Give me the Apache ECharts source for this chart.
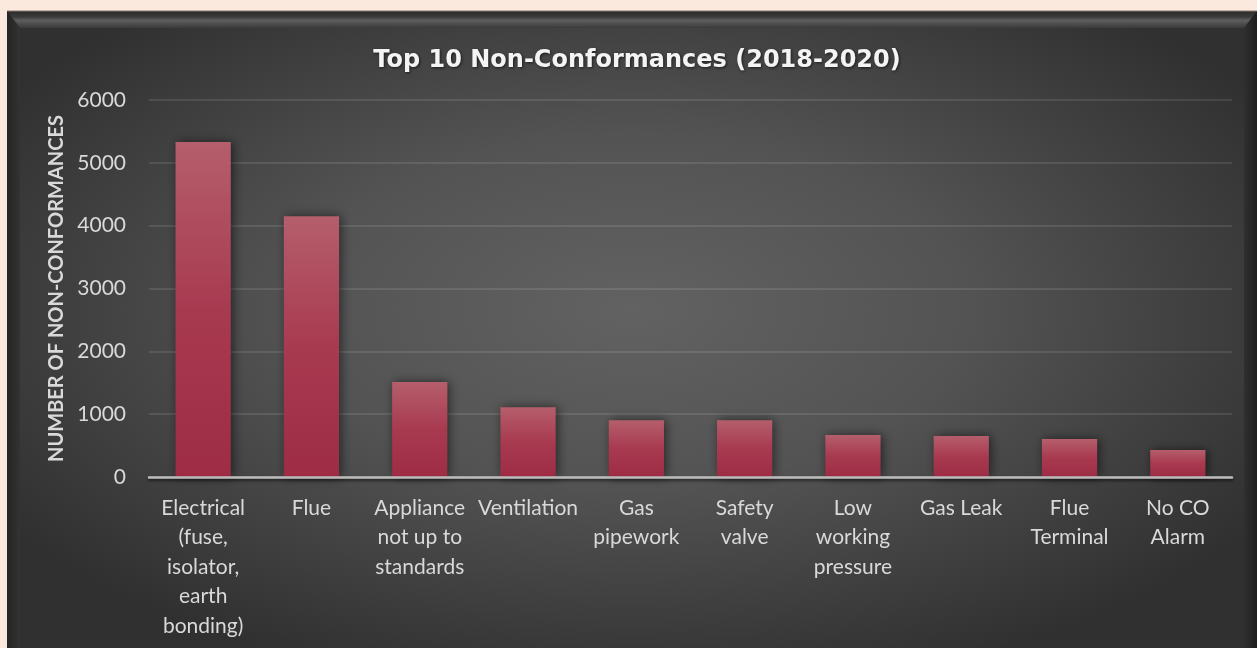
<!DOCTYPE html>
<html>
<head>
<meta charset="utf-8">
<script src="https://cdn.jsdelivr.net/npm/echarts@6/dist/echarts.min.js"></script>
<style>
html,body{margin:0;padding:0;background:#fce9dd;}
#chart{width:1257px;height:648px;}
</style>
</head>
<body>
<div id="chart"></div>
<script>
const titleText = 'Top 10 Non-Conformances (2018-2020)';
const yAxisName = 'NUMBER OF NON-CONFORMANCES';
const categories = [
  'Electrical\n(fuse,\nisolator,\nearth\nbonding)',
  'Flue',
  'Appliance\nnot up to\nstandards',
  'Ventilation',
  'Gas\npipework',
  'Safety\nvalve',
  'Low\nworking\npressure',
  'Gas Leak',
  'Flue\nTerminal',
  'No CO\nAlarm'
];
const values = [5330, 4150, 1510, 1110, 905, 905, 668, 653, 605, 430];
const yTicks = { min: 0, max: 6000, interval: 1000 };

const chart = echarts.init(document.getElementById('chart'), null, { renderer: 'canvas' });
const labelFont = 'Lato, "Open Sans", sans-serif';

chart.setOption({
  backgroundColor: '#fce9dd',
  animation: false,
  graphic: [
    {
      type: 'rect', z: -10, x: 7, y: 11, scaleY: 650 / 1250,
      shape: { x: 0, y: 0, width: 1250, height: 1250 },
      style: {
        fill: new echarts.graphic.RadialGradient(0.5, 0.46, 0.6, [
          { offset: 0, color: '#626262' },
          { offset: 0.45, color: '#535353' },
          { offset: 1, color: '#303030' }
        ])
      }
    },
    {
      type: 'polygon', z: -9,
      shape: { points: [[7, 11], [1257, 11], [1244, 28], [20, 28]] },
      style: {
        fill: new echarts.graphic.LinearGradient(0, 0, 0, 1, [
          { offset: 0, color: '#2a2a2a' },
          { offset: 0.35, color: '#3c3c3c' },
          { offset: 0.55, color: '#5e5e5e' },
          { offset: 1, color: '#3a3a3a' }
        ])
      }
    },
    {
      type: 'polygon', z: -9,
      shape: { points: [[7, 11], [20, 28], [20, 660], [7, 660]] },
      style: {
        fill: new echarts.graphic.LinearGradient(0, 0, 1, 0, [
          { offset: 0, color: '#242424' },
          { offset: 1, color: '#333333' }
        ])
      }
    },
    {
      type: 'polygon', z: -9,
      shape: { points: [[1257, 11], [1244, 28], [1244, 660], [1257, 660]] },
      style: {
        fill: new echarts.graphic.LinearGradient(0, 0, 1, 0, [
          { offset: 0, color: '#303030' },
          { offset: 1, color: '#1c1c1c' }
        ])
      }
    },
    {
      type: 'rect', z: -9,
      shape: { x: 7, y: 10.5, width: 1250, height: 1 },
      style: { fill: '#8a7a70' }
    }
  ],
  title: {
    text: titleText,
    left: 632,
    top: 44,
    textAlign: 'center',
    textStyle: {
      color: '#f4f4f4',
      fontFamily: '"DejaVu Sans", sans-serif',
      fontWeight: 'bold',
      fontSize: 24,
      textShadowColor: 'rgba(0,0,0,0.6)',
      textShadowBlur: 3,
      textShadowOffsetX: 1,
      textShadowOffsetY: 1
    }
  },
  grid: { left: 149, right: 25, top: 100, bottom: 171, containLabel: false },
  xAxis: {
    type: 'category',
    data: categories,
    axisLine: {
      lineStyle: {
        color: '#bdbdbd', width: 2.5,
        shadowColor: 'rgba(0,0,0,0.6)', shadowBlur: 3, shadowOffsetY: 2
      }
    },
    axisTick: { show: false },
    axisLabel: {
      color: '#d9d9d9',
      fontFamily: labelFont,
      fontSize: 21,
      lineHeight: 29.5,
      margin: 16,
      interval: 0
    },
    z: 5
  },
  yAxis: {
    type: 'value',
    min: yTicks.min,
    max: yTicks.max,
    interval: yTicks.interval,
    name: yAxisName,
    nameLocation: 'middle',
    nameGap: 70,
    nameTextStyle: {
      color: '#d9d9d9',
      fontFamily: labelFont,
      fontWeight: 'bold',
      fontSize: 20
    },
    axisLine: { show: false },
    axisTick: { show: false },
    axisLabel: {
      color: '#d9d9d9',
      fontFamily: labelFont,
      fontSize: 21,
      margin: 23,
      formatter: function (v) { return String(v); }
    },
    splitLine: {
      lineStyle: { color: 'rgba(255,255,255,0.1)', width: 2 }
    }
  },
  series: [{
    type: 'bar',
    data: values,
    barWidth: '51%',
    itemStyle: {
      color: new echarts.graphic.LinearGradient(0, 0, 0, 1, [
        { offset: 0, color: '#b55e6c' },
        { offset: 0.5, color: '#a83a50' },
        { offset: 1, color: '#9d2c44' }
      ]),
      shadowColor: 'rgba(0,0,0,0.55)',
      shadowBlur: 10,
      shadowOffsetX: 2,
      shadowOffsetY: 0
    }
  }]
});
</script>
</body>
</html>
